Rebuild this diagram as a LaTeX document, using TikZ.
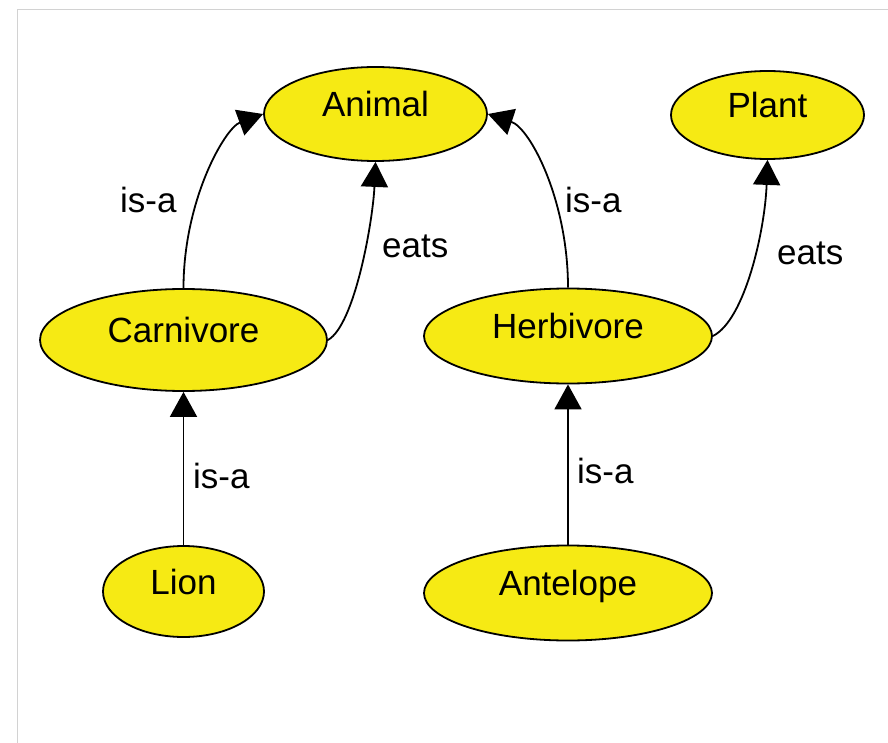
\documentclass[tikz,border=0pt]{standalone}
\usepackage{fontspec}
\setmainfont{Liberation Sans}
\usetikzlibrary{shapes.geometric,arrows.meta}
\definecolor{conceptyellow}{RGB}{246,234,20}
\definecolor{framegray}{RGB}{210,210,210}
\begin{document}
\begin{tikzpicture}[x=1pt,y=-1pt,
  concept/.style={ellipse, draw=black, fill=conceptyellow, line width=1.8pt,
    inner sep=0pt, text height=25pt, text depth=20pt,
    font=\fontsize{35}{40}\selectfont},
  rel/.style={draw=black, line width=1.8pt, -{Triangle[length=25pt,width=27pt]}},
  rellabel/.style={inner sep=0pt, anchor=base west, font=\fontsize{35}{40}\selectfont}]
  \useasboundingbox (0,0) rectangle (888,743);
  \fill[white] (0,0) rectangle (888,743);

  % frame edges
  \draw[framegray, line width=1pt] (17.5,743) -- (17.5,9.5) -- (888,9.5);

  % concepts
  \node[concept, minimum width=223pt, minimum height=94pt] (animal)    at (375.5,114) {Animal};
  \node[concept, minimum width=193pt, minimum height=88pt] (plant)     at (767.5,115) {Plant};
  \node[concept, minimum width=287pt, minimum height=102pt] (carnivore) at (183.5,340) {Carnivore};
  \node[concept, minimum width=288pt, minimum height=95pt] (herbivore) at (568,336) {Herbivore};
  \node[concept, minimum width=161pt, minimum height=91pt] (lion)      at (183.5,591.5) {Lion};
  \node[concept, minimum width=288pt, minimum height=95pt] (antelope)  at (568,593) {Antelope};

  % relations
  \draw[rel] (carnivore.north) .. controls (183.5,200) and (225,128) .. (animal.west);
  \draw[rel] (carnivore.east) .. controls (355,325) and (373,220) .. (animal.south);
  \draw[rel] (herbivore.north) .. controls (568,200) and (530,128) .. (animal.east);
  \draw[rel] (herbivore.east) .. controls (745,320) and (765,230) .. (plant.south);
  \draw[rel] (lion.north) -- (carnivore.south);
  \draw[rel] (antelope.north) -- (herbivore.south);

  % relation labels
  \node[rellabel] (lbl-carn-animal)  at (120,213) {is-a};
  \node[rellabel] (lbl-carn-eats)    at (382,258) {eats};
  \node[rellabel] (lbl-herb-animal)  at (565,213) {is-a};
  \node[rellabel] (lbl-herb-eats)    at (777,265) {eats};
  \node[rellabel] (lbl-lion)         at (193,488) {is-a};
  \node[rellabel] (lbl-antelope)     at (577,483) {is-a};
\end{tikzpicture}
\end{document}
